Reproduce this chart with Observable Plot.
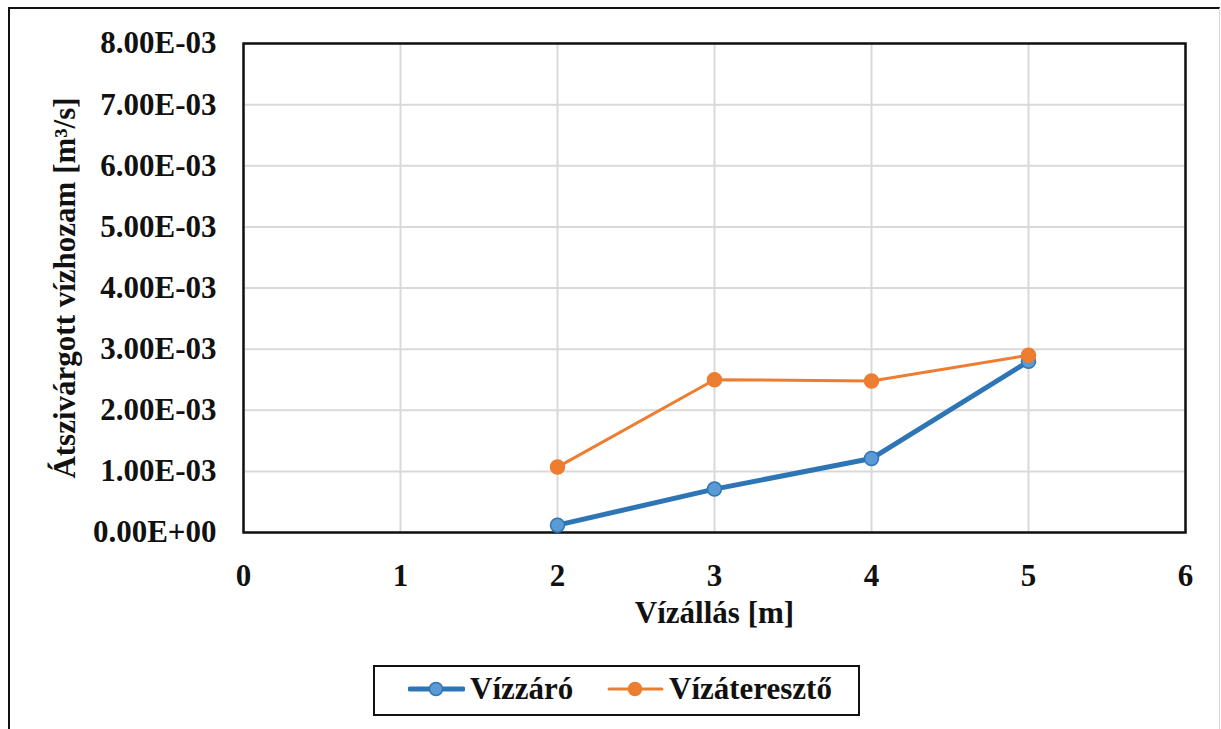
<!DOCTYPE html>
<html>
<head>
<meta charset="utf-8">
<script src="https://cdn.jsdelivr.net/npm/d3@7"></script>
<script src="https://cdn.jsdelivr.net/npm/@observablehq/plot@0.6"></script>
<style>
  html, body { margin: 0; padding: 0; background: #fff; }
  #wrap { position: relative; width: 1221px; height: 729px; overflow: hidden; font-family: "Liberation Serif", "Times New Roman", serif; font-weight: bold; }
  #frame { position: absolute; left: 8px; top: 7px; width: 1209px; height: 760px; border-top: 2.5px solid #111; border-left: 2.5px solid #111; border-right: 1px solid #d9d9d9; }
  #chart { position: absolute; left: 0; top: 0; }
  #legend { position: absolute; left: 373px; top: 665px; width: 483px; height: 47px; border: 2px solid #111; background: #fff; font-size: 31px; color: #111; }
  .item { display: flex; align-items: center; position: absolute; top: 4px; }
  .item svg { margin-right: 5px; }
</style>
</head>
<body>
<div id="wrap">
  <div id="frame"></div>
  <div id="chart"></div>
  <div id="legend"></div>
</div>
<script>
// Water level (m) and seepage discharge (m³/s) for the two cases
const levels = [2, 3, 4, 5];
const vizzaro = [0.00012, 0.00071, 0.00121, 0.00280];
const vizatereszto = [0.00107, 0.00250, 0.00248, 0.00290];
const seriesNames = ["Vízzáró", "Vízáteresztő"];
const xTicks = [0, 1, 2, 3, 4, 5, 6];
const yTicks = [0, 0.001, 0.002, 0.003, 0.004, 0.005, 0.006, 0.007, 0.008];

const colors = {
  "Vízzáró": { line: "#2e75b6", fill: "#5b9bd5", width: 5 },
  "Vízáteresztő": { line: "#ed7d31", fill: "#ed7d31", width: 3 }
};

const rows = [
  ...levels.map((x, i) => ({ series: seriesNames[0], x, y: vizzaro[i] })),
  ...levels.map((x, i) => ({ series: seriesNames[1], x, y: vizatereszto[i] }))
];

// Excel-style scientific labels: 8.00E-03, 0.00E+00
function sci(v) {
  if (v === 0) return "0.00E+00";
  const [m, e] = v.toExponential(2).split("e");
  const n = +e;
  return m + "E" + (n < 0 ? "-" : "+") + String(Math.abs(n)).padStart(2, "0");
}

const font = "Liberation Serif";
const plot = Plot.plot({
  width: 1221,
  height: 640,
  marginLeft: 243,
  marginRight: 36,
  marginTop: 43,
  marginBottom: 108,
  style: { fontFamily: font, fontWeight: "bold", fontSize: "31px", color: "#111", background: "transparent", overflow: "visible" },
  x: { domain: [0, 6], ticks: xTicks, label: null },
  y: { domain: [0, 0.008], ticks: yTicks, label: null },
  marks: [
    Plot.gridX(xTicks, { stroke: "#d9d9d9", strokeOpacity: 1, strokeWidth: 2 }),
    Plot.gridY(yTicks, { stroke: "#d9d9d9", strokeOpacity: 1, strokeWidth: 2 }),
    Plot.frame({ stroke: "#111", strokeWidth: 2.5 }),
    Plot.axisX(xTicks, { tickSize: 0, tickPadding: 31, tickFormat: d => String(d), fontSize: 31, fontWeight: "bold", label: null }),
    Plot.axisY(yTicks, { tickSize: 0, tickPadding: 27, tickFormat: sci, fontSize: 31, fontWeight: "bold", label: null }),
    Plot.text(["Vízállás [m]"], { frameAnchor: "bottom", dy: 90, fontSize: 31, fontWeight: "bold", fill: "#111" }),
    Plot.text(["Átszivárgott vízhozam [m³/s]"], { frameAnchor: "left", textAnchor: "middle", dx: -178, rotate: -90, fontSize: 31, fontWeight: "bold", fill: "#111" }),
    Plot.line(rows, { x: "x", y: "y", z: "series", stroke: d => colors[d.series].line, strokeWidth: d => colors[d.series].width }),
    Plot.dot(rows, { x: "x", y: "y", r: 7, fill: d => colors[d.series].fill, stroke: d => colors[d.series].line, strokeWidth: 1.5 })
  ]
});
document.getElementById("chart").appendChild(plot);

// Legend
const legend = document.getElementById("legend");
const positions = [33, 232];
seriesNames.forEach((name, i) => {
  const c = colors[name];
  const item = document.createElement("div");
  item.className = "item";
  item.style.left = positions[i] + "px";
  item.innerHTML = `<svg width="57" height="36"><line x1="2" x2="55" y1="18" y2="18" stroke="${c.line}" stroke-width="${c.width}" stroke-linecap="round"/><circle cx="28" cy="18" r="6.5" fill="${c.fill}" stroke="${c.line}" stroke-width="1.5"/></svg><span>${name}</span>`;
  legend.appendChild(item);
});
</script>
</body>
</html>
